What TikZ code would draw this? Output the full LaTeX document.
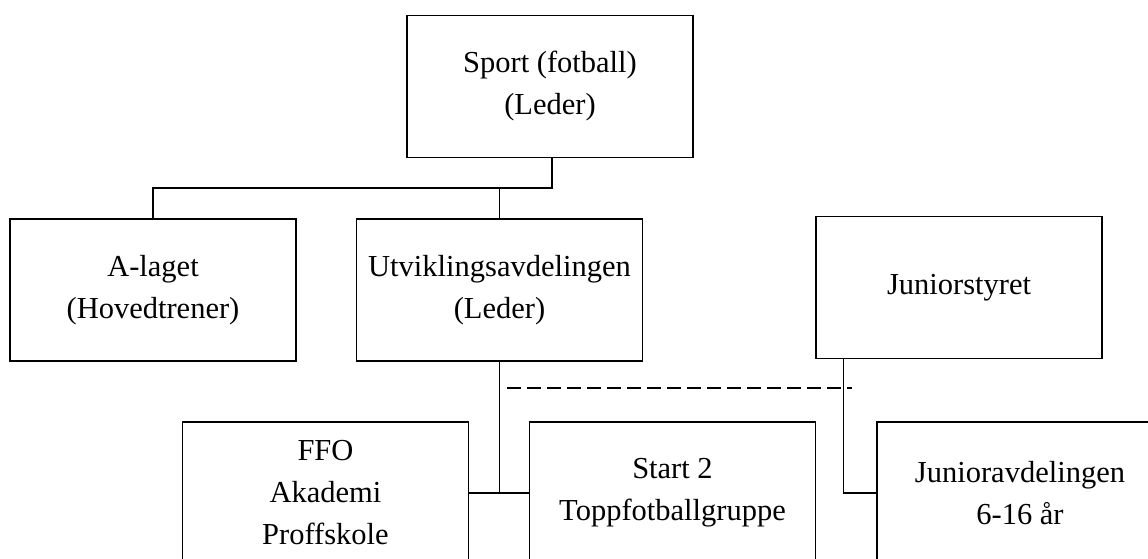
\documentclass[tikz,border=0pt]{standalone}
\usepackage{fontspec}
\setmainfont{Liberation Serif}
\begin{document}
\begin{tikzpicture}[x=1pt,y=-1pt,
  orgbox/.style={draw, line width=1.2pt, rectangle, inner sep=0pt, align=center,
    minimum width=286pt, minimum height=142pt,
    font=\fontsize{30.5}{42}\selectfont},
  link/.style={line width=1.2pt},
  dotted link/.style={line width=2pt, dash pattern=on 14pt off 6pt}]
\useasboundingbox (0,0) rectangle (1148,559);
\clip (0,0) rectangle (1148,559);
\node[orgbox] (sport) at (550,86.5) {Sport (fotball)\\(Leder)};
\node[orgbox] (alag) at (153,290) {A-laget\\(Hovedtrener)};
\node[orgbox] (utv) at (499.5,290) {Utviklingsavdelingen\\(Leder)};
\node[orgbox] (jstyr) at (959,287.5) {Juniorstyret};
\node[orgbox] (ffo) at (325.5,493) {FFO\\Akademi\\Proffskole};
\node[orgbox] (start) at (672.5,493) {Start 2\\Toppfotballgruppe};
\node[orgbox] (jav) at (1020,493) {Junioravdelingen\\6-16 år};
\coordinate (bus) at ([xshift=2pt]sport.south |- 0,188);
\draw[link] ([xshift=2pt]sport.south) -- (bus) -| (alag.north);
\draw[link] (utv.north) -- (utv.north |- bus);
\draw[link] (utv.south) -- (utv.south |- ffo.east);
\draw[link] (ffo.east) -- (start.west);
\draw[link] ([xshift=28pt]jstyr.south west) |- (jav.west);
\coordinate (dl) at (507,388);
\coordinate (dr) at (852,388);
\draw[dotted link] (dl) -- (dr);
\end{tikzpicture}
\end{document}
